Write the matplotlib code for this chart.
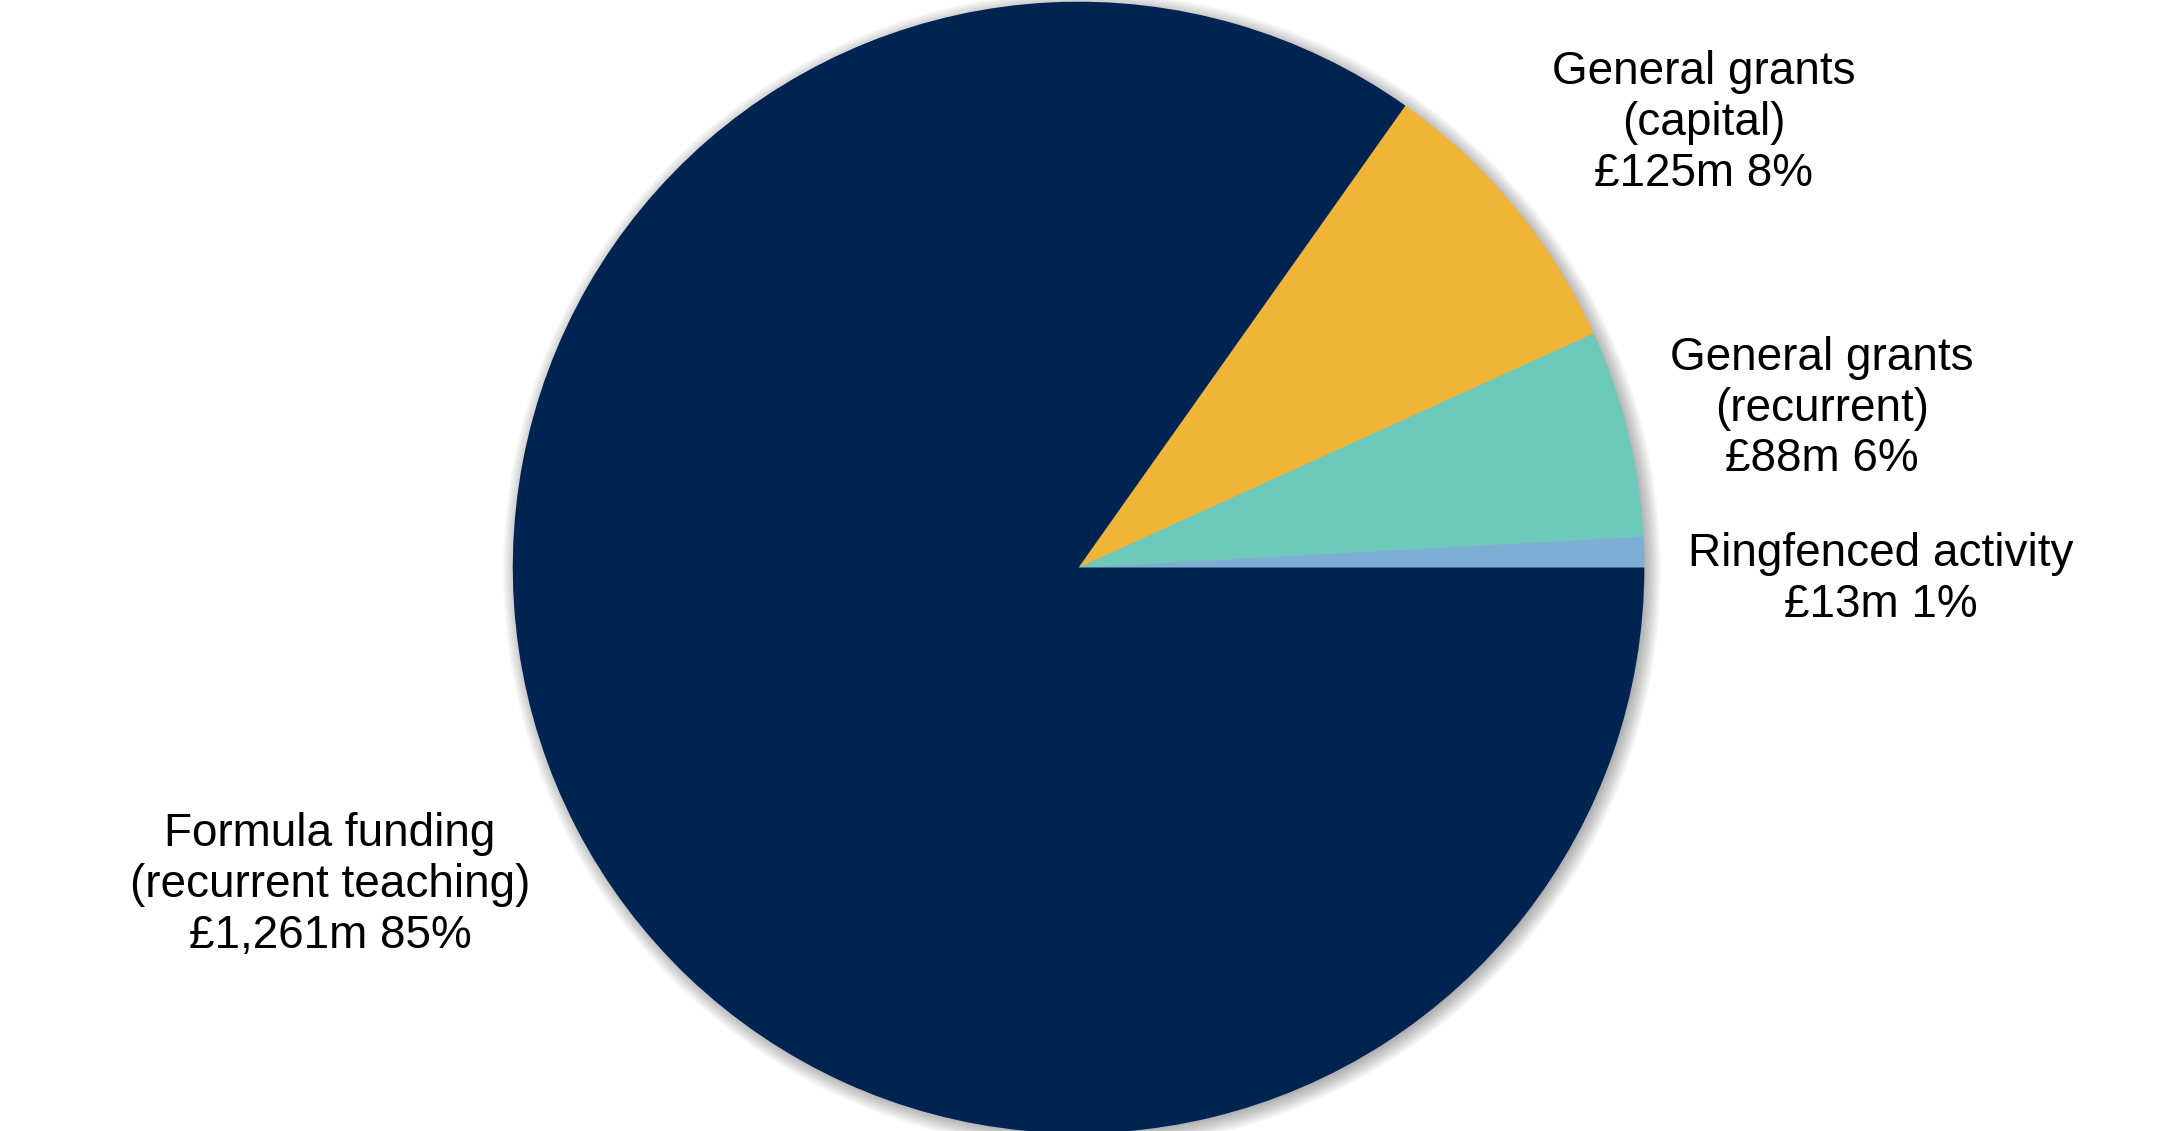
import matplotlib.pyplot as plt
from matplotlib.patches import Circle

# slices, counter-clockwise from 3 o'clock
names = ['Ringfenced activity', 'General grants\n(recurrent)',
         'General grants\n(capital)', 'Formula funding\n(recurrent teaching)']
values = [13, 88, 125, 1261]
value_labels = ['£13m', '£88m', '£125m', '£1,261m']
pct_labels = ['1%', '6%', '8%', '85%']
colors = ['#7DAFD6', '#6DCABA', '#F0B437', '#002452']

# label anchor points (pie radius = 1)
label_xy = [(1.413, -0.021), (1.310, 0.280), (1.101, 0.783), (-1.319, -0.560)]

plt.rcParams['font.family'] = ['Liberation Sans', 'DejaVu Sans']

fig = plt.figure(figsize=(21.6, 11.31), dpi=100)
ax = fig.add_axes([0, 0, 1, 1])

# soft shadow behind the pie
for i in range(14):
    ax.add_patch(Circle((0.006, -0.006), 0.992 + i * 0.0022, color='black',
                        alpha=0.025, lw=0, zorder=0))

ax.pie(values, colors=colors, startangle=0, counterclock=True,
       radius=0.997, wedgeprops=dict(linewidth=0))

for name, v, p, (x, y) in zip(names, value_labels, pct_labels, label_xy):
    ax.text(x, y, f'{name}\n{v} {p}', ha='center', va='center',
            fontsize=33, color='black', linespacing=1.2)

ax.set_xlim(-1.899, 1.904)
ax.set_ylim(-0.993, 1.0)
ax.set_aspect('equal')
ax.axis('off')

fig.savefig('out.png', dpi=100)
